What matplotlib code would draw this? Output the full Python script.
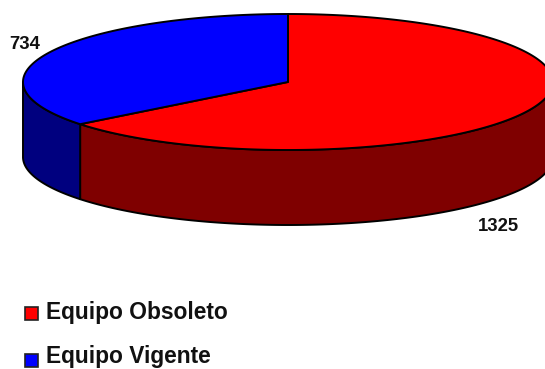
import numpy as np
import matplotlib
matplotlib.use('Agg')
import matplotlib.pyplot as plt
from matplotlib.patches import Polygon, Rectangle

plt.rcParams['font.family'] = ['Liberation Sans', 'DejaVu Sans']

labels = ['Equipo Obsoleto', 'Equipo Vigente']
values = [1325, 734]
top_colors = ['#ff0000', '#0000ff']
side_colors = ['#7f0000', '#00007f']

# pie geometry in pixels
cx, cy = 288, 82
rx, ry = 265, 68
depth = 75


def rim(t):
    return cx + rx * np.cos(t), cy - ry * np.sin(t)


fig = plt.figure(figsize=(5.45, 3.69), dpi=100)
ax = fig.add_axes([0, 0, 1, 1])
ax.set_xlim(0, 545)
ax.set_ylim(369, 0)
ax.axis('off')

# slices go clockwise from 12 o'clock, red first
fracs = np.array(values) / sum(values)
edges = np.pi / 2 - 2 * np.pi * np.concatenate([[0], np.cumsum(fracs)])

for i in range(len(values)):
    t = np.linspace(edges[i], edges[i + 1], 300)
    x, y = rim(t)
    ax.add_patch(Polygon(np.column_stack([np.r_[cx, x], np.r_[cy, y]]),
                         closed=True, fc=top_colors[i], ec='black', lw=1.4,
                         joinstyle='round', zorder=3))

    # the wall only exists on the lower half of the ellipse
    wrapped = np.mod(t, 2 * np.pi)
    front = wrapped > np.pi
    wx, wy = x[front], y[front]
    ax.add_patch(Polygon(np.column_stack([np.r_[wx, wx[::-1]],
                                          np.r_[wy, wy[::-1] + depth]]),
                         closed=True, fc=side_colors[i], ec='black', lw=1.4,
                         joinstyle='round', zorder=2))

ax.text(9, 49, str(values[1]), fontsize=13.3, fontweight='bold', va='baseline', ha='left', color='#111111')
ax.text(478, 231, str(values[0]), fontsize=13.3, fontweight='bold', va='baseline', ha='left', color='#111111')

# legend
box_y = [313.5, 360]
text_y = [319, 363.5]
for name, col, by, ty in zip(labels, top_colors, box_y, text_y):
    ax.add_patch(Rectangle((25, by - 6.5), 12.5, 13, fc=col, ec='#222222', lw=1.2))
    ax.text(46, ty, name, fontsize=16.4, fontweight='bold', va='baseline', ha='left', color='#111111')

fig.savefig('out.png', dpi=100)
